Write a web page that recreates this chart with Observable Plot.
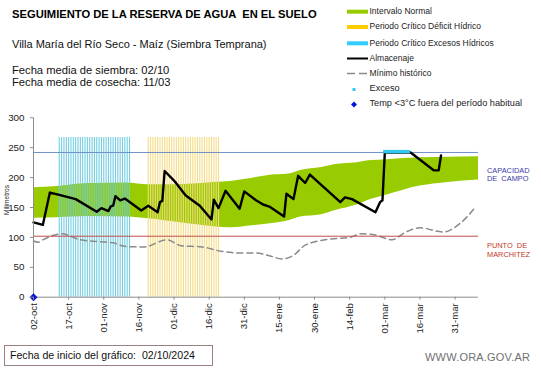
<!DOCTYPE html>
<html><head><meta charset="utf-8">
<script src="https://cdn.jsdelivr.net/npm/d3@7"></script>
<script src="https://cdn.jsdelivr.net/npm/@observablehq/plot@0.6"></script>
<style>
body{margin:0;background:#fff;font-family:"Liberation Sans",Arial,sans-serif;}
#wrap{position:relative;width:541px;height:368px;overflow:hidden;background:#fff;}
#wrap > svg{position:absolute;left:0;top:0;}
.t{position:absolute;white-space:nowrap;line-height:1;color:#000;}
</style></head><body><div id="wrap"></div>
<script>
// ---- data ----
const xStart = "2024-10-02", xEnd = "2025-04-10";
const capacidadCampo = 242;
const puntoMarchitez = 102;
const barTop = 267;

const bandDates = ["2024-10-02","2024-10-12","2024-10-25","2024-11-11","2024-11-20","2024-11-27","2024-12-07","2024-12-18","2024-12-26","2025-01-02","2025-01-11","2025-01-19","2025-01-24","2025-02-02","2025-02-08","2025-02-17","2025-02-22","2025-03-02","2025-03-16","2025-03-28","2025-04-10"];
const bandLow  = [132,133,135,134,131,128,123,118,116,119,123,128,134,138,145,154,162,171,186,192,196];
const bandHigh = [183,185,190,191,188,188,189,192,194,198,204,206,212,217,222,225,228,230,233,234,235];

const almDates = ["2024-10-02","2024-10-06","2024-10-09","2024-10-13","2024-10-20","2024-10-29","2024-10-31","2024-11-03","2024-11-04","2024-11-05","2024-11-06","2024-11-08","2024-11-10","2024-11-17","2024-11-20","2024-11-24","2024-11-25","2024-11-26","2024-11-27","2024-12-01","2024-12-06","2024-12-12","2024-12-17","2024-12-18","2024-12-20","2024-12-23","2024-12-29","2024-12-31","2025-01-05","2025-01-08","2025-01-11","2025-01-17","2025-01-18","2025-01-21","2025-01-23","2025-01-26","2025-01-28","2025-02-10","2025-02-12","2025-02-15","2025-02-25","2025-02-27","2025-02-28","2025-03-01","2025-03-12","2025-03-22","2025-03-24","2025-03-25"];
const almValues = [125,121,175,171,164,143,149,144,152,153,169,162,165,145,153,142,159,161,211,195,170,153,130,163,149,178,148,177,162,155,151,135,173,164,203,191,205,159,167,164,142,159,162,242,242,212,212,237];

const minDates = ["2024-10-02","2024-10-04","2024-10-06","2024-10-14","2024-10-22","2024-10-30","2024-11-05","2024-11-10","2024-11-18","2024-11-28","2024-12-04","2024-12-13","2024-12-21","2024-12-29","2025-01-05","2025-01-11","2025-01-16","2025-01-21","2025-01-26","2025-02-05","2025-02-14","2025-02-19","2025-02-25","2025-03-04","2025-03-10","2025-03-16","2025-03-26","2025-04-02","2025-04-09"];
const minValues = [94,92,96,106,96,93,91,85,84,96,86,84,77,74,74,69,64,70,87,97,100,106,104,96,109,116,109,123,152];

const excesosPeriod = ["2024-10-13","2024-11-12"];
const deficitPeriod = ["2024-11-20","2024-12-20"];
const excesoDates = ["2025-03-01","2025-03-02","2025-03-03","2025-03-04","2025-03-05","2025-03-06","2025-03-07","2025-03-08","2025-03-09","2025-03-10","2025-03-11"];
const tempDates = ["2024-10-02"];

const yTicks = [0,50,100,150,200,250,300];
const xTickDates = ["2024-10-02","2024-10-17","2024-11-01","2024-11-16","2024-12-01","2024-12-16","2024-12-31","2025-01-15","2025-01-30","2025-02-14","2025-03-01","2025-03-16","2025-03-31"];
const xTickLabels = ["02-oct","17-oct","01-nov","16-nov","01-dic","16-dic","31-dic","15-ene","30-ene","14-feb","01-mar","16-mar","31-mar"];

// ---- build ----
const P = d3.utcParse("%Y-%m-%d");
const band = bandDates.map((d,i)=>({date:P(d), lo:bandLow[i], hi:bandHigh[i]}));
const alm = almDates.map((d,i)=>({date:P(d), v:almValues[i]}));
const minH = minDates.map((d,i)=>({date:P(d), v:minValues[i]}));
const daysOf = p => d3.utcDay.range(P(p[0]), d3.utcDay.offset(P(p[1]),1));
const cyanDays = daysOf(excesosPeriod);
const yellowDays = daysOf(deficitPeriod);
const exceso = excesoDates.map(P);
const temp = tempDates.map(P);
const tickMap = new Map(xTickDates.map((d,i)=>[+P(d), xTickLabels[i]]));

const chart = Plot.plot({
  width: 541, height: 368,
  marginTop: 117.3, marginBottom: 71.3, marginLeft: 33, marginRight: 63,
  x: {type: "utc", domain: [P(xStart), P(xEnd)]},
  y: {domain: [0, 300]},
  style: {fontFamily: "'Liberation Sans', Arial, sans-serif", background: "transparent", overflow: "visible"},
  marks: [
    Plot.areaY(band, {x: "date", y1: "lo", y2: "hi", fill: "#99cc00", curve: "monotone-x"}),
    Plot.ruleX(cyanDays, {x: d => d, y1: 0, y2: barTop, stroke: "#6ccbe0", strokeWidth: 1.1, strokeOpacity: 0.95}),
    Plot.ruleX(yellowDays, {x: d => d, y1: 0, y2: barTop, stroke: "#f3da80", strokeWidth: 1.1, strokeOpacity: 0.95}),
    Plot.ruleY([capacidadCampo], {stroke: "#7090c8", strokeWidth: 1}),
    Plot.lineY(minH, {x: "date", y: "v", stroke: "#8a8a8a", strokeWidth: 1.5, strokeDasharray: "6,4", curve: "monotone-x"}),
    Plot.ruleY([puntoMarchitez], {stroke: "#c0504d", strokeWidth: 1}),
    Plot.lineY(alm, {x: "date", y: "v", stroke: "#000", strokeWidth: 2.4}),
    Plot.dot(exceso, {x: d => d, y: capacidadCampo + 1.5, symbol: "square", r: 1.9, fill: "#33c8ee", stroke: "none"}),
    Plot.ruleY([0], {stroke: "#8c8c8c", strokeWidth: 1}),
    Plot.ruleX([P(xStart)], {y1: 0, y2: 300, stroke: "#8c8c8c", strokeWidth: 1}),
    Plot.dot(temp, {x: d => d, y: 0, symbol: "diamond2", r: 3.6, fill: "#0a14d8", stroke: "none"}),
    Plot.axisY(yTicks, {tickSize: 3, tickPadding: 6, fontSize: 9.8, stroke: "#8c8c8c", fill: "#222", label: null}),
    Plot.axisX(xTickDates.map(P), {tickSize: 3, tickPadding: 3, tickRotate: -90, fontSize: 9.6, stroke: "#8c8c8c", fill: "#222", label: null, tickFormat: d => tickMap.get(+d)})
  ]
});
const wrap = document.getElementById("wrap");
wrap.appendChild(chart);

// ---- texts ----
function txt(s, x, cy, size, opts={}) {
  const el = document.createElement("div");
  el.className = "t";
  el.textContent = s;
  el.style.left = x + "px";
  el.style.top = (cy - size*0.55) + "px";
  el.style.fontSize = size + "px";
  if (opts.bold) el.style.fontWeight = "bold";
  if (opts.color) el.style.color = opts.color;
  if (opts.ls) el.style.letterSpacing = opts.ls + "px";
  wrap.appendChild(el);
  return el;
}
txt("SEGUIMIENTO DE LA RESERVA DE AGUA  EN EL SUELO", 12, 15.5, 11.2, {bold: true}).style.whiteSpace = "pre";
txt("Villa María del Río Seco - Maíz (Siembra Temprana)", 12, 45, 11, {color: "#111"});
txt("Fecha media de siembra: 02/10", 12, 71.5, 11.2, {color: "#111"});
txt("Fecha media de cosecha: 11/03", 12, 83, 11.2, {color: "#111"});

const legendLabels = ["Intervalo Normal","Periodo Crítico Déficit Hídrico","Periodo Crítico Excesos Hídricos","Almacenaje","Mínimo histórico","Exceso","Temp <3°C fuera del período habitual"];
const legendY = [11.7, 27, 43.3, 58.5, 73.5, 89.5, 104.5];
legendLabels.forEach((s,i)=> txt(s, 369.5, legendY[i], i>=5 ? 9.2 : 8.5, {color: "#222"}));

// legend swatches
const sw = d3.create("svg").attr("width",541).attr("height",368).style("pointer-events","none");
sw.append("rect").attr("x",347).attr("y",legendY[0]-2).attr("width",21).attr("height",4).attr("fill","#99cc00");
sw.append("rect").attr("x",347).attr("y",legendY[1]-2).attr("width",21).attr("height",4).attr("fill","#ffcc00");
sw.append("rect").attr("x",347).attr("y",legendY[2]-2).attr("width",21).attr("height",4).attr("fill","#33ccff");
sw.append("line").attr("x1",347).attr("x2",368).attr("y1",legendY[3]).attr("y2",legendY[3]).attr("stroke","#000").attr("stroke-width",2);
sw.append("line").attr("x1",347).attr("x2",368).attr("y1",legendY[4]).attr("y2",legendY[4]).attr("stroke","#8a8a8a").attr("stroke-width",1.5).attr("stroke-dasharray","8,4");
sw.append("rect").attr("x",352.5).attr("y",legendY[5]-1.5).attr("width",3).attr("height",3).attr("fill","#33c8ee");
sw.append("path").attr("d",`M354,${legendY[6]-3}L357,${legendY[6]}L354,${legendY[6]+3}L351,${legendY[6]}Z`).attr("fill","#0a14d8");
wrap.appendChild(sw.node());

txt("CAPACIDAD", 487, 171, 7.4, {color: "#3a3aa8"});
txt("DE  CAMPO", 487, 179.5, 7.4, {color: "#3a3aa8"}).style.whiteSpace = "pre";
txt("PUNTO  DE", 487, 246.5, 7.4, {color: "#c0392b"}).style.whiteSpace = "pre";
txt("MARCHITEZ", 487, 255.5, 7.4, {color: "#c0392b"});

const yl = txt("Milímetros", 0, 0, 6.5, {color: "#222"});
yl.style.left = "6.5px"; yl.style.top = "200px";
yl.style.transform = "translate(-50%,-50%) rotate(-90deg)";

// bottom box
const box = document.createElement("div");
box.style.cssText = "position:absolute;left:4px;top:345px;width:209px;height:21px;border:1px solid #9a8080;box-sizing:border-box;";
wrap.appendChild(box);
txt("Fecha de inicio del gráfico:  02/10/2024", 10, 355.5, 10.6, {color: "#111"}).style.whiteSpace = "pre";
txt("WWW.ORA.GOV.AR", 425, 358.5, 11, {color: "#707070", ls: 0.2});
</script>
</body></html>
